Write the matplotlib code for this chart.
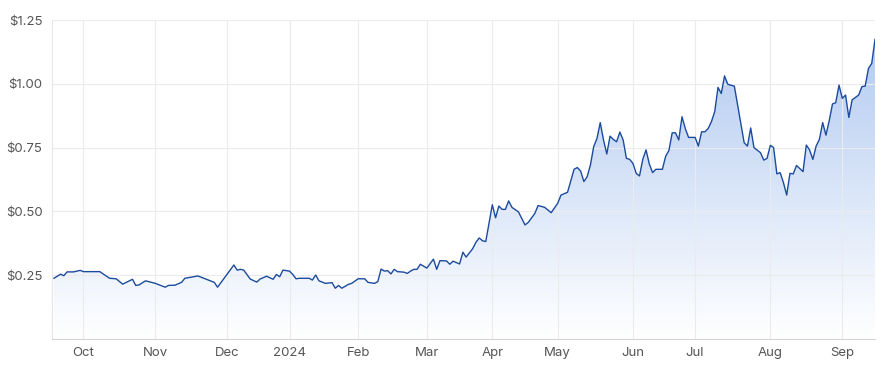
import numpy as np
import pandas as pd
import matplotlib
matplotlib.use("Agg")
import matplotlib.pyplot as plt
from matplotlib.colors import LinearSegmentedColormap
from matplotlib.patches import Polygon

plt.rcParams['font.family'] = ['Inter', 'DejaVu Sans']

# ASX trading calendar for the year shown
holidays = ["2023-12-25", "2023-12-26", "2024-01-01", "2024-01-26",
            "2024-03-29", "2024-04-01", "2024-04-25", "2024-06-10"]
days = pd.bdate_range("2023-09-19", "2024-09-16", freq="C", holidays=holidays)

# share price (close)
dates = [
    "2023-09-19", "2023-09-21", "2023-09-22", "2023-09-25", "2023-09-27", "2023-09-29",
    "2023-10-02", "2023-10-09", "2023-10-12", "2023-10-16", "2023-10-18", "2023-10-23",
    "2023-10-24", "2023-10-25", "2023-10-27",
    "2023-11-01", "2023-11-06", "2023-11-07", "2023-11-09", "2023-11-13", "2023-11-14",
    "2023-11-20", "2023-11-27", "2023-11-28",
    "2023-12-05", "2023-12-06", "2023-12-07", "2023-12-08", "2023-12-12", "2023-12-14",
    "2023-12-15", "2023-12-19", "2023-12-21", "2023-12-22", "2023-12-27", "2023-12-28",
    "2024-01-02", "2024-01-03", "2024-01-04", "2024-01-05", "2024-01-10", "2024-01-11",
    "2024-01-12", "2024-01-15", "2024-01-17", "2024-01-19", "2024-01-22", "2024-01-23",
    "2024-01-24", "2024-01-29", "2024-01-30",
    "2024-02-01", "2024-02-05", "2024-02-06", "2024-02-08", "2024-02-09", "2024-02-12",
    "2024-02-13", "2024-02-14", "2024-02-15", "2024-02-16", "2024-02-19", "2024-02-21",
    "2024-02-22", "2024-02-23", "2024-02-26", "2024-02-27", "2024-02-28",
    "2024-03-01", "2024-03-05", "2024-03-06", "2024-03-07", "2024-03-11", "2024-03-12",
    "2024-03-13", "2024-03-15", "2024-03-18", "2024-03-19", "2024-03-21", "2024-03-22",
    "2024-03-25", "2024-03-26", "2024-03-27",
    "2024-04-02", "2024-04-03", "2024-04-04", "2024-04-05", "2024-04-08", "2024-04-09",
    "2024-04-10", "2024-04-12", "2024-04-16", "2024-04-17", "2024-04-19", "2024-04-22",
    "2024-04-24", "2024-04-29",
    "2024-05-01", "2024-05-02", "2024-05-06", "2024-05-08", "2024-05-09", "2024-05-10",
    "2024-05-13", "2024-05-14", "2024-05-15", "2024-05-16", "2024-05-17", "2024-05-20",
    "2024-05-21", "2024-05-22", "2024-05-23", "2024-05-24", "2024-05-27", "2024-05-28",
    "2024-05-29", "2024-05-30", "2024-05-31",
    "2024-06-03", "2024-06-04", "2024-06-05", "2024-06-06", "2024-06-07", "2024-06-11",
    "2024-06-12", "2024-06-13", "2024-06-17", "2024-06-18", "2024-06-19", "2024-06-20",
    "2024-06-21", "2024-06-24", "2024-06-25", "2024-06-26", "2024-06-27",
    "2024-07-01", "2024-07-02", "2024-07-03", "2024-07-04", "2024-07-05", "2024-07-08",
    "2024-07-09", "2024-07-10", "2024-07-11", "2024-07-12", "2024-07-15", "2024-07-17",
    "2024-07-18", "2024-07-22", "2024-07-23", "2024-07-24", "2024-07-25", "2024-07-29",
    "2024-07-30", "2024-07-31",
    "2024-08-01", "2024-08-02", "2024-08-05", "2024-08-06", "2024-08-07", "2024-08-08",
    "2024-08-09", "2024-08-12", "2024-08-13", "2024-08-15", "2024-08-16", "2024-08-19",
    "2024-08-20", "2024-08-21", "2024-08-22", "2024-08-23", "2024-08-26", "2024-08-27",
    "2024-08-28", "2024-08-29", "2024-08-30",
    "2024-09-02", "2024-09-03", "2024-09-04", "2024-09-05", "2024-09-09", "2024-09-10",
    "2024-09-11", "2024-09-12", "2024-09-13", "2024-09-16",
]
prices = [
    0.238, 0.254, 0.248, 0.263, 0.263, 0.269,
    0.264, 0.264, 0.238, 0.236, 0.215, 0.234,
    0.210, 0.212, 0.228,
    0.218, 0.203, 0.210, 0.211, 0.222, 0.238,
    0.247, 0.222, 0.203,
    0.290, 0.270, 0.273, 0.270, 0.235, 0.223,
    0.235, 0.246, 0.234, 0.253, 0.244, 0.270,
    0.266, 0.253, 0.236, 0.238, 0.238, 0.231,
    0.251, 0.228, 0.218, 0.221, 0.199, 0.210,
    0.199, 0.214, 0.218,
    0.236, 0.236, 0.222, 0.218, 0.225, 0.274,
    0.266, 0.268, 0.255, 0.273, 0.264, 0.262,
    0.257, 0.266, 0.273, 0.273, 0.293,
    0.278, 0.313, 0.273, 0.307, 0.306, 0.293,
    0.305, 0.294, 0.340, 0.321, 0.354, 0.379,
    0.396, 0.385, 0.382,
    0.526, 0.475, 0.521, 0.508, 0.508, 0.541,
    0.516, 0.498, 0.447, 0.457, 0.492, 0.523,
    0.516, 0.495,
    0.532, 0.564, 0.575, 0.665, 0.672, 0.658,
    0.617, 0.636, 0.682, 0.754, 0.786, 0.848,
    0.780, 0.725, 0.795, 0.782, 0.773, 0.811,
    0.780, 0.708, 0.704,
    0.688, 0.649, 0.639, 0.704, 0.741, 0.686,
    0.652, 0.665, 0.665, 0.716, 0.739, 0.808,
    0.808, 0.780, 0.871, 0.825, 0.790,
    0.790, 0.756, 0.812, 0.812, 0.825, 0.852,
    0.891, 0.986, 0.962, 1.031, 0.998, 0.991,
    0.917, 0.769, 0.756, 0.827, 0.750, 0.730,
    0.701, 0.708,
    0.759, 0.750, 0.647, 0.652, 0.613, 0.564,
    0.649, 0.647, 0.680, 0.656, 0.760, 0.741,
    0.704, 0.756, 0.782, 0.848, 0.799, 0.855,
    0.921, 0.926, 0.995,
    0.943, 0.956, 0.868, 0.937, 0.956, 0.989,
    0.991, 1.060, 1.080, 1.174,
]

month_starts = ["2023-10-01", "2023-11-01", "2023-12-01", "2024-01-01", "2024-02-01",
                "2024-03-01", "2024-04-01", "2024-05-01", "2024-06-01", "2024-07-01",
                "2024-08-01", "2024-09-01"]
month_labels = ["Oct", "Nov", "Dec", "2024", "Feb", "Mar", "Apr", "May", "Jun",
                "Jul", "Aug", "Sep"]
yticks = [0.25, 0.50, 0.75, 1.00, 1.25]

x = days.get_indexer(pd.to_datetime(dates))
y = np.array(prices)
xt = days.searchsorted(pd.to_datetime(month_starts))

fig = plt.figure(figsize=(8.85, 3.65), dpi=100)
ax = fig.add_axes([0.0588, 0.0712, 0.9299, 0.874])

# gradient fill under the line
cmap = LinearSegmentedColormap.from_list("fade", ["#ffffff", "#b3cbf1"])
grad = np.linspace(0, 1, 256).reshape(-1, 1)
im = ax.imshow(grad, extent=[x.min(), x.max(), 0, y.max()], origin="lower",
               aspect="auto", cmap=cmap, zorder=1)
poly = Polygon(np.column_stack([np.r_[x[0], x, x[-1]], np.r_[0, y, 0]]),
               closed=True, facecolor="none", edgecolor="none")
ax.add_patch(poly)
im.set_clip_path(poly)

ax.plot(x, y, color="#1c4b9e", lw=1.0, zorder=3)

ax.set_xlim(-0.6, x.max())
ax.set_ylim(0, 1.25)
ax.set_xticks(xt)
ax.set_xticklabels(month_labels)
ax.set_yticks(yticks)
ax.set_yticklabels([f"${v:.2f}" for v in yticks])

ax.grid(True, color="#ebebeb", lw=0.8, zorder=2)
ax.set_axisbelow(False)
for s in ["top", "right"]:
    ax.spines[s].set_visible(False)
ax.spines["left"].set_color("#e6e6e6")
ax.spines["bottom"].set_color("#d4d4d4")
ax.tick_params(length=0, labelsize=9.5, labelcolor="#555555")
ax.tick_params(axis="x", pad=6)
ax.tick_params(axis="y", pad=7)

fig.savefig("out.png", dpi=100)
